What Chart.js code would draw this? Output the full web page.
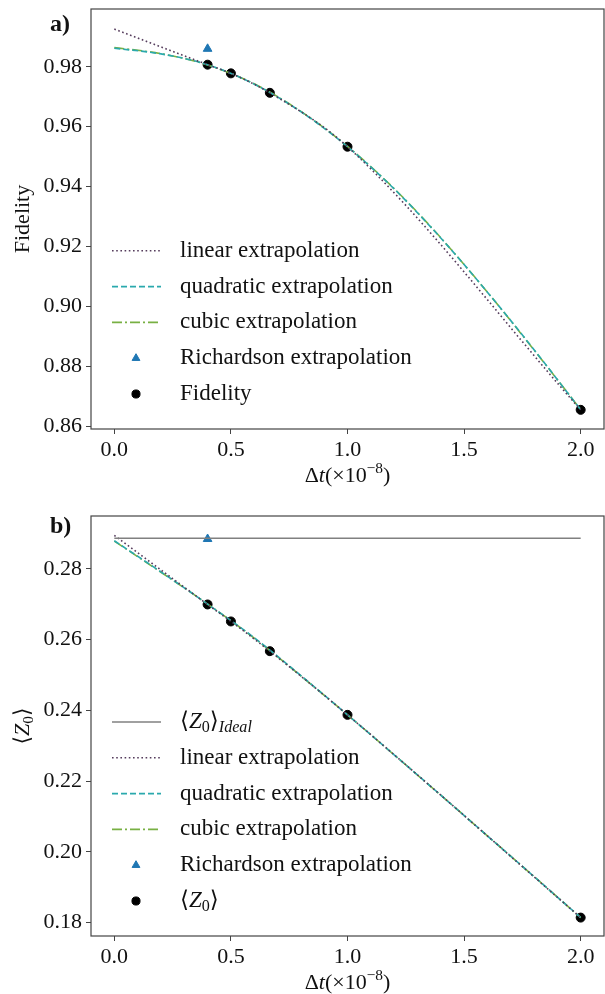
<!DOCTYPE html>
<html>
<head>
<meta charset="utf-8">
<script src="https://cdn.jsdelivr.net/npm/chart.js@4.4.0/dist/chart.umd.min.js"></script>
<style>
    html, body { margin: 0; padding: 0; background: #fff; overflow: hidden; width: 605px; height: 994px; }
    canvas { position: absolute; left: 0; }
</style>
</head>
<body>
<canvas id="fidelityChart" width="610" height="497" style="top:0"></canvas>
<canvas id="z0Chart" width="610" height="497" style="top:507px"></canvas>
<script>
// measured points (dt in units of 1e-8)
const dtValues = [0.4, 0.5, 0.667, 1.0, 2.0];
const fidelity = [0.9807, 0.9778, 0.9713, 0.9533, 0.8654];
const z0 = [0.2699, 0.2651, 0.2567, 0.2387, 0.1814];

// linear extrapolation (through the points, extended to dt = 0)
const linearX = [0, 0.4, 0.5, 0.667, 1.0, 2.0];
const fidLinear = [0.9926, 0.9807, 0.9778, 0.9713, 0.9533, 0.8654];
const z0Linear = [0.2894, 0.2699, 0.2651, 0.2567, 0.2387, 0.1814];

// polynomial fits
const fitX = [0, 0.2, 0.4, 0.6, 0.8, 1.0, 1.2, 1.4, 1.6, 1.8, 2.0];
const fidQuadratic = [0.9862, 0.9843, 0.9807, 0.9742, 0.9650, 0.9533, 0.9392, 0.9228, 0.9047, 0.8855, 0.8654];
const fidCubic = [0.9864, 0.9844, 0.9806, 0.9743, 0.9651, 0.9534, 0.9393, 0.9229, 0.9047, 0.8854, 0.8655];
const z0Quadratic = [0.2879, 0.2791, 0.2700, 0.2605, 0.2498, 0.2387, 0.2274, 0.2160, 0.2045, 0.1930, 0.1814];
const z0Cubic = [0.2878, 0.2790, 0.2700, 0.2604, 0.2497, 0.2387, 0.2274, 0.2160, 0.2045, 0.1930, 0.1814];

// Richardson extrapolation
const richardsonX = [0.4];
const fidRichardson = [0.9860];
const z0Richardson = [0.2884];

// ideal value
const idealX = [0, 2.0];
const z0Ideal = [0.2886, 0.2886];

// ticks
const xTicks = [0, 0.5, 1.0, 1.5, 2.0];
const fidTicks = [0.86, 0.88, 0.90, 0.92, 0.94, 0.96, 0.98];
const z0Ticks = [0.18, 0.20, 0.22, 0.24, 0.26, 0.28];

const FONT = '"Liberation Serif", "DejaVu Serif", serif';
const SPINE = '#444';

function pts(xs, ys) {
    return xs.map((x, i) => ({ x: x, y: ys[i] }));
}

// text with italic / sub / sup pieces
function drawRich(ctx, parts, x, y, size, align, measureOnly) {
    let width = 0;
    if (align === 'center' && !measureOnly) {
        width = drawRich(ctx, parts, 0, 0, size, 'left', true);
        x -= width / 2;
    }
    let cx = x;
    for (const [t, s] of parts) {
        const small = s.includes('sub') || s.includes('sup');
        const fs = small ? size * 0.7 : size;
        ctx.font = (s.startsWith('i') ? 'italic ' : '') + fs + 'px ' + FONT;
        const dy = s.includes('sub') ? size * 0.25 : s.includes('sup') ? -size * 0.32 : 0;
        if (!measureOnly) ctx.fillText(t, cx, y + dy);
        cx += ctx.measureText(t).width;
    }
    return cx - x;
}

const line = (label, xs, ys, color, dash, width) => ({
    label: label, data: pts(xs, ys), showLine: true, borderColor: color, backgroundColor: color,
    borderWidth: width || 1.6, borderDash: dash, pointRadius: 0, pointHoverRadius: 0,
    cubicInterpolationMode: 'monotone', tension: 0.4
});
const marker = (label, xs, ys, color, style, r) => ({
    label: label, data: pts(xs, ys), showLine: false, borderColor: color, backgroundColor: color,
    pointStyle: style, pointRadius: r, borderWidth: 1
});

const decor = {
    id: 'decor',
    afterDraw(chart, args, opts) {
        const { ctx, chartArea: a } = chart;
        ctx.save();
        // box round the axes
        ctx.strokeStyle = SPINE;
        ctx.lineWidth = 1.2;
        ctx.strokeRect(a.left, a.top, a.width, a.height);

        ctx.fillStyle = '#111';
        ctx.textBaseline = 'middle';
        // panel label
        ctx.font = 'bold 24px ' + FONT;
        ctx.textAlign = 'left';
        ctx.fillText(opts.panel, 50, opts.panelY);

        // x title
        drawRich(ctx, [['Δ', ''], ['t', 'i'], ['(×10', ''], ['−8', 'sup'], [')', '']],
            (a.left + a.right) / 2, a.bottom + 47, 22, 'center');
        // y title
        ctx.save();
        ctx.translate(23, (a.top + a.bottom) / 2);
        ctx.rotate(-Math.PI / 2);
        drawRich(ctx, opts.yTitle, 0, 0, 22, 'center');
        ctx.restore();

        // legend, lower left
        const rows = opts.legend;
        const step = 35.8;
        rows.forEach((row, i) => {
            const y = a.bottom - 35 - (rows.length - 1 - i) * step;
            const ds = chart.data.datasets[row.ds];
            ctx.save();
            if (ds.showLine) {
                ctx.strokeStyle = ds.borderColor;
                ctx.lineWidth = ds.borderWidth;
                ctx.setLineDash(ds.borderDash || []);
                ctx.beginPath();
                ctx.moveTo(a.left + 21, y);
                ctx.lineTo(a.left + 70, y);
                ctx.stroke();
            } else {
                ctx.fillStyle = ds.backgroundColor;
                ctx.strokeStyle = ds.borderColor;
                ctx.lineWidth = 1;
                Chart.helpers.drawPoint(ctx, { pointStyle: ds.pointStyle, radius: ds.pointRadius * 0.9, rotation: 0, borderWidth: 1 }, a.left + 45, y);
            }
            ctx.restore();
            drawRich(ctx, row.text, a.left + 89, y, 23, 'left');
        });
        ctx.restore();
    }
};

function makeChart(id, datasets, yMin, yMax, yTicks, decorOpts) {
    return new Chart(document.getElementById(id), {
        type: 'scatter',
        data: { datasets: datasets },
        options: {
            responsive: false,
            animation: false,
            events: [],
            layout: { padding: { top: 9, right: 1, left: 0, bottom: 0 } },
            plugins: { legend: { display: false }, tooltip: { enabled: false }, decor: decorOpts },
            scales: {
                x: {
                    type: 'linear', min: -0.1, max: 2.1,
                    afterBuildTicks: s => { s.ticks = xTicks.map(v => ({ value: v })); },
                    afterFit: s => { s.height = 68; s.paddingLeft = 0; s.paddingRight = 0; },
                    grid: { drawOnChartArea: false, color: SPINE, tickLength: 5, lineWidth: 1 },
                    border: { display: false },
                    ticks: { font: { family: FONT, size: 22 }, color: '#111', padding: 3, maxRotation: 0,
                        callback: v => v.toFixed(1) }
                },
                y: {
                    type: 'linear', min: yMin, max: yMax,
                    afterBuildTicks: s => { s.ticks = yTicks.map(v => ({ value: v })); },
                    afterFit: s => { s.width = 91; s.paddingTop = 0; s.paddingBottom = 0; },
                    grid: { drawOnChartArea: false, color: SPINE, tickLength: 5, lineWidth: 1 },
                    border: { display: false },
                    ticks: { font: { family: FONT, size: 22 }, color: '#111', padding: 4,
                        callback: v => v.toFixed(2) }
                }
            }
        },
        plugins: [decor]
    });
}

const C_LIN = '#553c5c';
const C_QUAD = '#2aa9ad';
const C_CUB = '#78b043';
const C_RICH = '#1f77b4';

makeChart('fidelityChart', [
    line('linear extrapolation', linearX, fidLinear, C_LIN, [1.6, 2.6]),
    line('quadratic extrapolation', fitX, fidQuadratic, C_QUAD, [6, 3]),
    line('cubic extrapolation', fitX, fidCubic, C_CUB, [10, 3, 2, 3]),
    marker('Richardson extrapolation', richardsonX, fidRichardson, C_RICH, 'triangle', 5),
    marker('Fidelity', dtValues, fidelity, '#000', 'circle', 4.5)
], 0.859, 0.9993, fidTicks, {
    panel: 'a)', panelY: 25,
    yTitle: [['Fidelity', '']],
    legend: [
        { ds: 0, text: [['linear extrapolation', '']] },
        { ds: 1, text: [['quadratic extrapolation', '']] },
        { ds: 2, text: [['cubic extrapolation', '']] },
        { ds: 3, text: [['Richardson extrapolation', '']] },
        { ds: 4, text: [['Fidelity', '']] }
    ]
});

makeChart('z0Chart', [
    line('<Z0> Ideal', idealX, z0Ideal, '#808080', [], 1.6),
    line('linear extrapolation', linearX, z0Linear, C_LIN, [1.6, 2.6]),
    line('quadratic extrapolation', fitX, z0Quadratic, C_QUAD, [6, 3]),
    line('cubic extrapolation', fitX, z0Cubic, C_CUB, [10, 3, 2, 3]),
    marker('Richardson extrapolation', richardsonX, z0Richardson, C_RICH, 'triangle', 5),
    marker('<Z0>', dtValues, z0, '#000', 'circle', 4.5)
], 0.1762, 0.2949, z0Ticks, {
    panel: 'b)', panelY: 20,
    yTitle: [['⟨', ''], ['Z', 'i'], ['0', 'sub'], ['⟩', '']],
    legend: [
        { ds: 0, text: [['⟨', ''], ['Z', 'i'], ['0', 'sub'], ['⟩', ''], ['Ideal', 'isub']] },
        { ds: 1, text: [['linear extrapolation', '']] },
        { ds: 2, text: [['quadratic extrapolation', '']] },
        { ds: 3, text: [['cubic extrapolation', '']] },
        { ds: 4, text: [['Richardson extrapolation', '']] },
        { ds: 5, text: [['⟨', ''], ['Z', 'i'], ['0', 'sub'], ['⟩', '']] }
    ]
});
</script>
</body>
</html>
